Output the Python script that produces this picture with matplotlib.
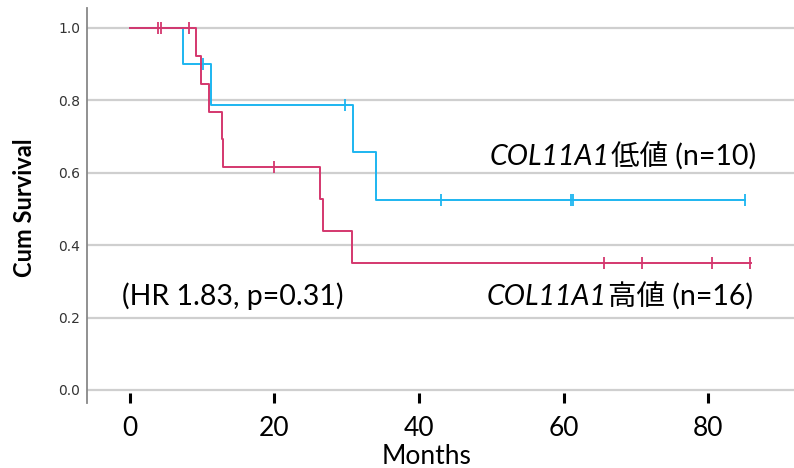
import matplotlib
matplotlib.use('Agg')
import matplotlib.pyplot as plt

# step curves (time in months, survival after the step)
low_times = [0, 7.3, 11.2, 30.8, 34.1, 85.1]
low_surv = [1.0, 0.900, 0.7875, 0.656, 0.525, 0.525]
low_censor_t = [10.1, 29.7, 43.1, 61.0, 61.3, 85.1]
low_censor_s = [0.900, 0.7875, 0.525, 0.525, 0.525, 0.525]

high_times = [0, 9.2, 9.8, 11.0, 12.7, 12.9, 26.3, 26.7, 30.7, 86.0]
high_surv = [1.0, 0.923, 0.846, 0.769, 0.692, 0.615, 0.527, 0.440, 0.352, 0.352]
high_censor_t = [3.9, 4.3, 8.2, 19.9, 65.6, 70.9, 80.6, 85.8]
high_censor_s = [1.0, 1.0, 1.0, 0.615, 0.352, 0.352, 0.352, 0.352]

xticks = [0, 20, 40, 60, 80]
yticks = [0.0, 0.2, 0.4, 0.6, 0.8, 1.0]

blue = '#1db5f0'
red = '#d4376e'
fam = ['Lato', 'Noto Sans CJK JP', 'DejaVu Sans']

fig = plt.figure(figsize=(7.94, 4.68), dpi=100)
ax = fig.add_axes([87 / 794, 1 - 403 / 468, 1 - 87 / 794, (403 - 8) / 468])

for y in yticks:
    ax.axhline(y, color='#cfcfcf', lw=1.6, zorder=0)

ax.step(low_times, low_surv, where='post', color=blue, lw=1.4)
ax.step(high_times, high_surv, where='post', color=red, lw=1.4)
ax.plot(low_censor_t, low_censor_s, ls='none', marker='|', ms=8, mew=1.3, color=blue)
ax.plot(high_censor_t, high_censor_s, ls='none', marker='|', ms=8, mew=1.3, color=red)

ax.set_xlim(-5.95, 91.9)
ax.set_ylim(-0.036, 1.055)

ax.spines['top'].set_visible(False)
ax.spines['right'].set_visible(False)
ax.spines['bottom'].set_visible(False)
ax.spines['left'].set_color('#888888')
ax.spines['left'].set_linewidth(1.3)

ax.set_yticks(yticks)
ax.set_yticklabels(['%.1f' % v for v in yticks], fontsize=10, family='DejaVu Sans', color='#333333')
ax.tick_params(axis='y', length=0, pad=5)
ax.set_xticks(xticks)
ax.set_xticklabels([str(v) for v in xticks], fontsize=19, family=fam)
ax.tick_params(axis='x', direction='in', length=7.5, width=2.2, color='black', pad=9)

ax.set_xlabel('Months', fontsize=19, family=fam, va='baseline')
ax.xaxis.set_label_coords((427 - 87) / 707, (403 - 464) / 395)
ax.set_ylabel('Cum Survival', fontsize=17, fontweight='bold', family=fam)
ax.yaxis.set_label_coords(-0.072, 0.494)

renderer = fig.canvas.get_renderer()
inv = ax.transData.inverted()


def gene_label(x, y, rest):
    # italic gene symbol, then the plain Japanese part right after it
    t = ax.text(x, y, 'COL11A1', fontsize=20.5, style='italic', family=fam, ha='left', va='center')
    bb = t.get_window_extent(renderer)
    x2 = inv.transform((bb.x1 + 1, bb.y0))[0]
    ax.text(x2, y, rest, fontsize=20.5, family=fam, ha='left', va='center')


gene_label(49.8, 0.644, '低値 (n=10)')
gene_label(49.4, 0.258, '高値 (n=16)')
ax.text(-1.1, 0.258, '(HR 1.83, p=0.31)', fontsize=20.5, family=fam, ha='left', va='center')

fig.savefig('out.png', dpi=100)
